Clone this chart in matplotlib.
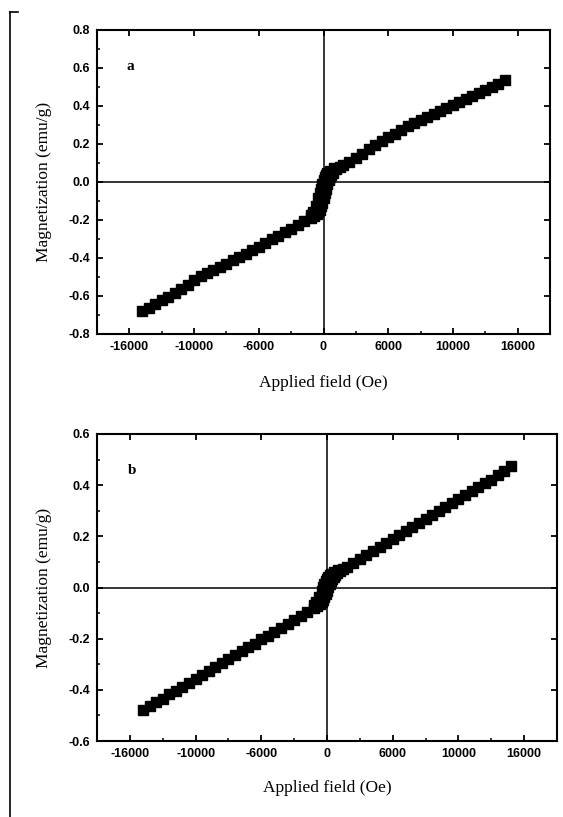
import numpy as np
import matplotlib.pyplot as plt
from matplotlib.lines import Line2D

# ---------------------------------------------------------------
# data (field in Oe, magnetization in emu/g)
field = [-14000, -13500, -13000, -12500, -12000, -11500, -11000, -10500, -10000,
         -9500, -9000, -8500, -8000, -7500, -7000, -6500, -6000, -5500, -5000,
         -4500, -4000, -3500, -3000, -2500, -2000, -1500, -1000, -750, -500,
         -400, -300, -200, -100, 0, 100, 200, 300, 400, 500, 600, 750, 1000,
         1250, 1500, 2000, 2500, 3000, 3500, 4000, 4500, 5000, 5500, 6000, 6500,
         7000, 7500, 8000, 8500, 9000, 9500, 10000, 10500, 11000, 11500, 12000,
         12500, 13000, 13500, 14000]

mag_a = [-0.680, -0.662, -0.643, -0.623, -0.603, -0.583, -0.562, -0.540, -0.515,
         -0.497, -0.480, -0.463, -0.447, -0.430, -0.413, -0.395, -0.377, -0.358, -0.340,
         -0.321, -0.302, -0.284, -0.265, -0.246, -0.227, -0.207, -0.187, -0.178, -0.170,
         -0.160, -0.145, -0.128, -0.108, -0.085, -0.060, -0.035, -0.010, 0.010, 0.025,
         0.037, 0.050, 0.066,
         0.077, 0.087, 0.107, 0.128, 0.150, 0.172, 0.193, 0.215, 0.235, 0.255, 0.275, 0.293,
         0.310, 0.327, 0.343, 0.359, 0.375, 0.390, 0.405, 0.420, 0.436, 0.452, 0.468,
         0.484, 0.500, 0.517, 0.535]

mag_b = [-0.480, -0.464, -0.449, -0.434, -0.418, -0.403, -0.388, -0.372, -0.357,
         -0.341, -0.326, -0.311, -0.295, -0.280, -0.265, -0.249, -0.234, -0.219, -0.203,
         -0.188, -0.172, -0.157, -0.141, -0.126, -0.110, -0.095, -0.080, -0.072, -0.064,
         -0.057, -0.048, -0.038, -0.026, -0.012, 0.002, 0.015, 0.026, 0.035, 0.042,
         0.048, 0.055, 0.064,
         0.072, 0.080, 0.095, 0.111, 0.127, 0.143, 0.159, 0.175, 0.190, 0.206, 0.221, 0.237,
         0.252, 0.268, 0.283, 0.299, 0.314, 0.330, 0.345, 0.360, 0.376, 0.391, 0.407,
         0.422, 0.438, 0.455, 0.475]

# return branch near zero field (small hysteresis, makes the S thicker)
field_ret = [-1000, -800, -600, -400, -300, -200, -100, 0, 100, 200, 300, 500, 800]
mag_a_ret = [-0.174, -0.160, -0.128, -0.085, -0.060, -0.035, -0.010, 0.010, 0.025,
             0.037, 0.046, 0.060, 0.075]
mag_b_ret = [-0.067, -0.057, -0.038, -0.012, 0.002, 0.015, 0.026, 0.035, 0.042,
             0.048, 0.053, 0.061, 0.070]

xticks = [-15000, -10000, -5000, 0, 5000, 10000, 15000]
xticklabels = ['-16000', '-10000', '-6000', '0', '6000', '10000', '16000']
yticks_a = [-0.8, -0.6, -0.4, -0.2, 0.0, 0.2, 0.4, 0.6, 0.8]
yticks_b = [-0.6, -0.4, -0.2, 0.0, 0.2, 0.4, 0.6]

fig = plt.figure(figsize=(5.63, 8.17), dpi=100)
fig.patch.set_facecolor('white')

serif = ['Liberation Serif', 'DejaVu Serif']
sans = ['Liberation Sans', 'DejaVu Sans']


def panel(rect, y, y_ret, yticks, ylim, letter, xlab_y):
    ax = fig.add_axes(rect)
    ax.plot(field, y, 's', color='black', ms=7, mec='black', zorder=3)
    ax.plot(field_ret, y_ret, 's', color='black', ms=7, mec='black', zorder=3)
    ax.axhline(0, color='black', lw=1.1, zorder=2)
    ax.axvline(0, color='black', lw=1.1, zorder=2)
    ax.set_xlim(-17500, 17500)
    ax.set_ylim(*ylim)
    ax.set_xticks(xticks)
    ax.set_xticklabels(xticklabels)
    ax.set_xticks([-12500, -7500, -2500, 2500, 7500, 12500], minor=True)
    ax.set_yticks(yticks)
    ax.set_yticklabels(['%.1f' % v for v in yticks])
    ax.set_yticks([v + 0.1 for v in yticks[:-1]], minor=True)
    ax.tick_params(which='major', direction='in', length=4, width=1.3,
                   top=True, right=True, labelsize=9, pad=5)
    ax.tick_params(which='minor', direction='in', length=2.5, width=1.1,
                   top=False, right=False)
    for lab in ax.get_xticklabels() + ax.get_yticklabels():
        lab.set_family(sans)
        lab.set_fontweight('bold')
    for sp in ax.spines.values():
        sp.set_linewidth(1.5)
    ax.text(0.066, 0.88, letter, transform=ax.transAxes, family=serif,
            fontweight='bold', fontsize=11, ha='left', va='center')
    ax.set_ylabel('Magnetization (emu/g)', family=serif, fontsize=12.5)
    ax.yaxis.set_label_coords(-45 / (rect[2] * 563), 0.5)
    fig.text(ax.get_position().x0 + ax.get_position().width / 2, xlab_y,
             'Applied field (Oe)', family=serif, fontsize=12.5,
             ha='center', va='center')
    return ax


ax1 = panel([97 / 563, 1 - 334 / 817, 453 / 563, 304 / 817], mag_a, mag_a_ret,
            yticks_a, (-0.8, 0.8), 'a', 1 - 383 / 817)
ax2 = panel([97 / 563, 1 - 741 / 817, 460 / 563, 307 / 817], mag_b, mag_b_ret,
            yticks_b, (-0.6, 0.6), 'b', 1 - 788 / 817)

# crop border line on the left edge
fig.add_artist(Line2D([10 / 563, 10 / 563], [0, 1 - 12 / 817],
                      transform=fig.transFigure, color='black', lw=1.2))
fig.add_artist(Line2D([10 / 563, 18 / 563], [1 - 12 / 817, 1 - 12 / 817],
                      transform=fig.transFigure, color='black', lw=1.2))

fig.savefig('out.png', dpi=100, facecolor='white')
